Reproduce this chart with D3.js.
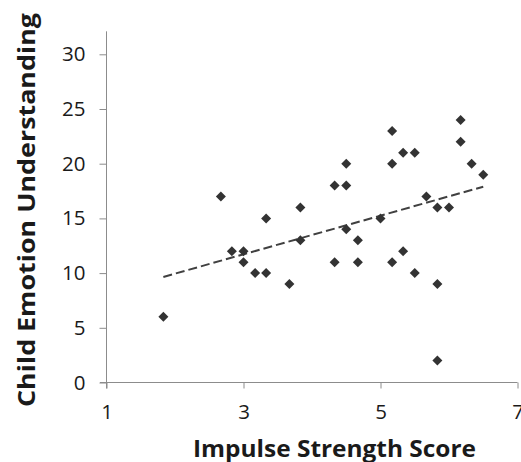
<!DOCTYPE html>
<html>
<head>
<meta charset="utf-8">
<script src="https://cdn.jsdelivr.net/npm/d3@7"></script>
<style>
  body { margin: 0; background: #fff; }
  svg text { font-family: "Open Sans", "Noto Sans", sans-serif; fill: #1a1a1a; }
</style>
</head>
<body>
<div id="chart"></div>
<script>
var width = 521,
    height = 462;

// impulse strength score (x) and child emotion understanding (y)
var impulseScores = [1.83, 2.67, 2.83, 3, 3, 3.17, 3.33, 3.33, 3.67, 3.83, 3.83,
  4.33, 4.33, 4.5, 4.5, 4.5, 4.67, 4.67, 5, 5.17, 5.17, 5.17, 5.33, 5.33,
  5.5, 5.5, 5.67, 5.83, 5.83, 5.83, 6, 6.17, 6.17, 6.33, 6.5];
var emotionScores = [6, 17, 12, 12, 11, 10, 15, 10, 9, 16, 13,
  18, 11, 20, 18, 14, 13, 11, 15, 23, 20, 11, 21, 12,
  21, 10, 17, 16, 9, 2, 16, 24, 22, 20, 19];

// linear trend line end points
var trendX = [1.83, 6.5];
var trendY = [9.65, 17.9];

var xTicks = [1, 3, 5, 7];
var yTicks = [0, 5, 10, 15, 20, 25, 30];

var svg = d3.select('#chart').append('svg')
  .attr('width', width)
  .attr('height', height);

var xScale = d3.scaleLinear()
  .domain([1, 7])
  .range([106.5, 517.5]);

var yScale = d3.scaleLinear()
  .domain([0, 30])
  .range([382.5, 54.3]);

// y axis
var yAxis = d3.axisLeft(yScale)
  .tickValues(yTicks)
  .tickFormat(d3.format('d'))
  .tickSize(7)
  .tickPadding(14);

var yAxisGroup = svg.append('g')
  .attr('transform', 'translate(' + xScale(1) + ',0)')
  .call(yAxis);
yAxisGroup.select('.domain').remove();
yAxisGroup.append('line')
  .attr('x1', 0).attr('x2', 0)
  .attr('y1', yScale(32.1)).attr('y2', yScale(0) + 6);
yAxisGroup.selectAll('line').attr('stroke', '#8c8c8c');
yAxisGroup.selectAll('text')
  .style('font-size', '20.5px')
  .attr('fill', '#1a1a1a');

// x axis
var xAxis = d3.axisBottom(xScale)
  .tickValues(xTicks)
  .tickFormat(d3.format('d'))
  .tickSize(6)
  .tickPadding(16);

var xAxisGroup = svg.append('g')
  .attr('transform', 'translate(0,' + yScale(0) + ')')
  .call(xAxis);
xAxisGroup.select('.domain').remove();
xAxisGroup.append('line')
  .attr('x1', 100).attr('x2', xScale(7))
  .attr('y1', 0).attr('y2', 0);
xAxisGroup.selectAll('line').attr('stroke', '#8c8c8c');
xAxisGroup.selectAll('text')
  .style('font-size', '20.5px')
  .attr('fill', '#1a1a1a');

// trend line
svg.append('line')
  .attr('x1', xScale(trendX[0]))
  .attr('y1', yScale(trendY[0]))
  .attr('x2', xScale(trendX[1]))
  .attr('y2', yScale(trendY[1]))
  .attr('stroke', '#404040')
  .attr('stroke-width', 2)
  .attr('stroke-dasharray', '9,4');

// diamond markers
var diamond = d3.symbol().type(d3.symbolSquare).size(50);
svg.selectAll('.point')
  .data(impulseScores)
  .enter()
  .append('path')
  .attr('class', 'point')
  .attr('d', diamond)
  .attr('transform', function(d, i) {
    return 'translate(' + xScale(d) + ',' + yScale(emotionScores[i]) + ') rotate(45)';
  })
  .attr('fill', '#333333');

// axis titles
svg.append('text')
  .attr('x', 334.5)
  .attr('y', 457)
  .attr('text-anchor', 'middle')
  .attr('textLength', 283)
  .attr('lengthAdjust', 'spacingAndGlyphs')
  .style('font-size', '24px')
  .style('font-weight', 'bold')
  .attr('fill', '#000')
  .text('Impulse Strength Score');

svg.append('text')
  .attr('transform', 'translate(35,210) rotate(-90)')
  .attr('text-anchor', 'middle')
  .attr('textLength', 394)
  .attr('lengthAdjust', 'spacingAndGlyphs')
  .style('font-size', '24px')
  .style('font-weight', 'bold')
  .attr('fill', '#000')
  .text('Child Emotion Understanding');
</script>
</body>
</html>
